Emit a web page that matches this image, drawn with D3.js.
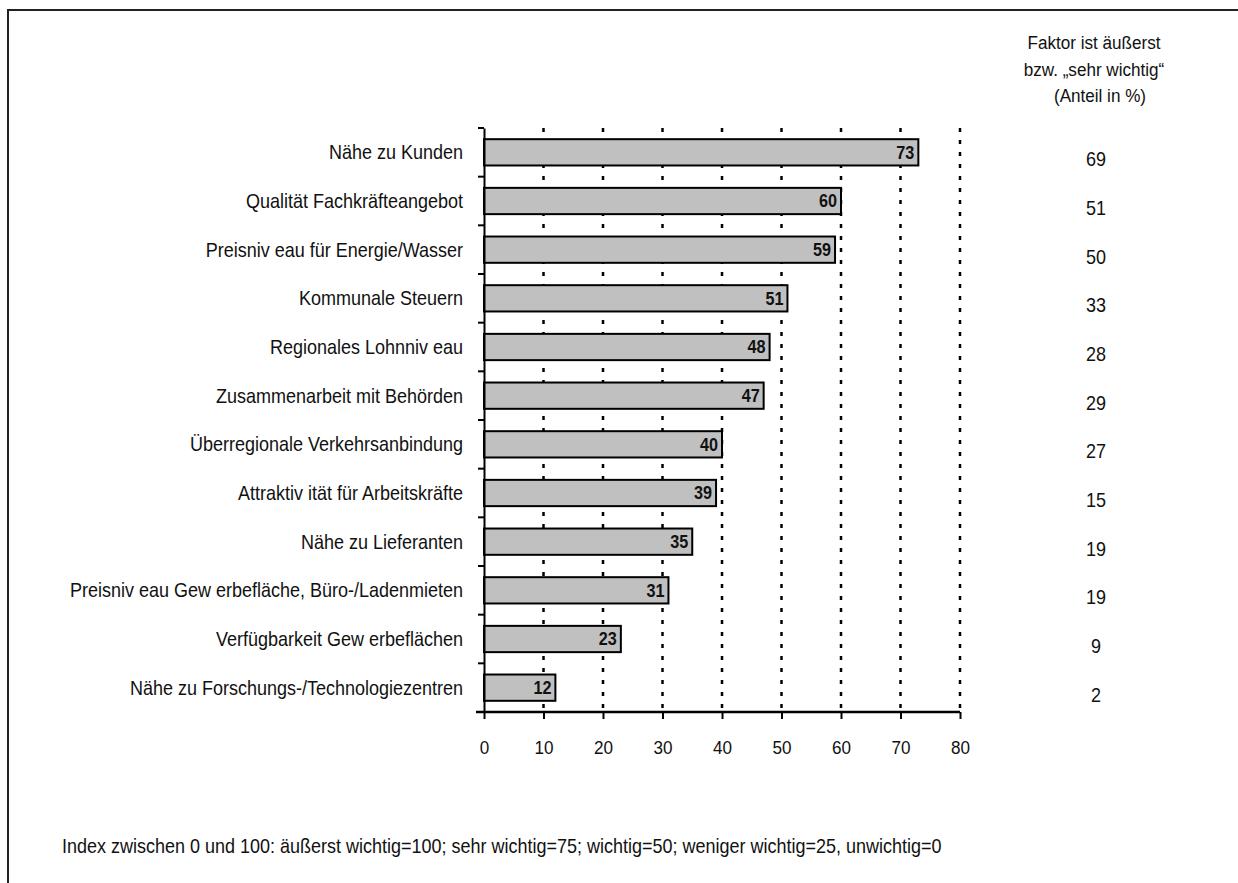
<!DOCTYPE html>
<html>
<head>
<meta charset="utf-8">
<script src="https://cdn.jsdelivr.net/npm/d3@7"></script>
<style>
    body { margin: 0; background: #fff; }
    text { font-family: "Liberation Sans", Arial, sans-serif; fill: #111; }
</style>
</head>
<body>
<svg id="chart" width="1238" height="883"></svg>
<script>
// Standortfaktoren: Index (0..100) und Anteil "äußerst/sehr wichtig"
var factors = [
    'Nähe zu Kunden',
    'Qualität Fachkräfteangebot',
    'Preisniv eau für Energie/Wasser',
    'Kommunale Steuern',
    'Regionales Lohnniv eau',
    'Zusammenarbeit mit Behörden',
    'Überregionale Verkehrsanbindung',
    'Attraktiv ität für Arbeitskräfte',
    'Nähe zu Lieferanten',
    'Preisniv eau Gew erbefläche, Büro-/Ladenmieten',
    'Verfügbarkeit Gew erbeflächen',
    'Nähe zu Forschungs-/Technologiezentren'
]
var indexValues = [73, 60, 59, 51, 48, 47, 40, 39, 35, 31, 23, 12]
var shareValues = [69, 51, 50, 33, 28, 29, 27, 15, 19, 19, 9, 2]
var xTicks = [0, 10, 20, 30, 40, 50, 60, 70, 80]
var headerLines = ['Faktor ist äußerst', 'bzw. „sehr  wichtig“', '(Anteil in %)']
var footnote = 'Index zwischen 0 und 100: äußerst wichtig=100; sehr wichtig=75; wichtig=50; weniger wichtig=25, unwichtig=0'

var NARROW = 0.9  // fake Arial Narrow by squeezing Liberation Sans

// put a squeezed text at (x,y)
function narrow(sel, x, y) {
    return sel.attr('transform', function(d, i) {
        return `translate(${x(d, i)},${y(d, i)}) scale(${NARROW},1)`
    })
}

var svg = d3.select('#chart')

// outer frame
svg.append('rect')
    .attr('x', 8).attr('y', 10)
    .attr('width', 1260).attr('height', 900)
    .attr('fill', 'none')
    .attr('stroke', '#222')
    .attr('stroke-width', 2)

var margin = { top: 128, left: 484 },
    width = 960 - 484,
    height = 712 - 128

var g = svg.append('g').attr('transform', `translate(${margin.left},${margin.top})`)

var x = d3.scaleLinear().domain([0, 80]).range([0, width])
var y = d3.scaleBand().domain(factors).range([0, height]).paddingInner(0.46).paddingOuter(0.23)
var band = d3.scaleBand().domain(factors).range([0, height])

// dotted gridlines
g.selectAll('.grid')
    .data(xTicks.filter(d => d > 0))
    .join('line')
    .attr('class', 'grid')
    .attr('x1', d => x(d)).attr('x2', d => x(d))
    .attr('y1', 0).attr('y2', height)
    .attr('stroke', '#000')
    .attr('stroke-width', 2.5)
    .attr('stroke-dasharray', '4,8')

// bars
g.selectAll('.bar')
    .data(indexValues)
    .join('rect')
    .attr('class', 'bar')
    .attr('x', 0)
    .attr('y', (d, i) => y(factors[i]))
    .attr('width', d => x(d))
    .attr('height', y.bandwidth())
    .attr('fill', '#c0c0c0')
    .attr('stroke', '#000')
    .attr('stroke-width', 2)

// value labels in bars
g.selectAll('.val')
    .data(indexValues)
    .join('text')
    .attr('class', 'val')
    .call(narrow, d => x(d) - 4, (d, i) => y(factors[i]) + y.bandwidth() / 2)
    .attr('dy', '0.35em')
    .attr('text-anchor', 'end')
    .style('font-size', '18px')
    .style('font-weight', 'bold')
    .text(d => d)

// y axis
var yAxis = g.append('g')
    .call(d3.axisLeft(band).tickValues([]).tickSizeOuter(0))
yAxis.select('.domain').attr('stroke', '#000').attr('stroke-width', 2)
g.selectAll('.ytick')
    .data(factors)
    .join('line')
    .attr('class', 'ytick')
    .attr('x1', -6).attr('x2', 0)
    .attr('y1', d => band(d)).attr('y2', d => band(d))
    .attr('stroke', '#000').attr('stroke-width', 2)

// category labels
g.selectAll('.cat')
    .data(factors)
    .join('text')
    .attr('class', 'cat')
    .call(narrow, () => -21, d => y(d) + y.bandwidth() / 2)
    .attr('dy', '0.35em')
    .attr('text-anchor', 'end')
    .style('font-size', '20px')
    .text(d => d)

// x axis
var xAxis = g.append('g')
    .attr('transform', `translate(0,${height})`)
    .call(d3.axisBottom(x).tickValues(xTicks).tickSize(7).tickSizeOuter(0))
xAxis.select('.domain').attr('stroke', '#000').attr('stroke-width', 2.5)
    .attr('d', `M-8,0H${width}`)
xAxis.selectAll('.tick line').attr('stroke', '#000').attr('stroke-width', 2)
xAxis.selectAll('.tick text').remove()
xAxis.selectAll('.tick').append('text')
    .attr('transform', `translate(0,35) scale(${NARROW},1)`)
    .attr('dy', '0.35em')
    .attr('text-anchor', 'middle')
    .style('font-size', '19px')
    .style('font-family', '"Liberation Sans", Arial, sans-serif')
    .attr('fill', '#111')
    .text(d => d)

// right column: share of "äußerst/sehr wichtig"
svg.selectAll('.hdr')
    .data(headerLines)
    .join('text')
    .attr('class', 'hdr')
    .call(narrow, (d, i) => i == 2 ? 1100 : 1094, (d, i) => 49 + i * 26.5)
    .attr('text-anchor', 'middle')
    .style('font-size', '19px')
    .text(d => d)

g.selectAll('.share')
    .data(shareValues)
    .join('text')
    .attr('class', 'share')
    .call(narrow, () => 1096 - margin.left, (d, i) => band(factors[i]) + band.bandwidth() / 2 + 7)
    .attr('dy', '0.35em')
    .attr('text-anchor', 'middle')
    .style('font-size', '20px')
    .text(d => d)

// footnote
svg.append('text')
    .call(narrow, () => 62, () => 853)
    .style('font-size', '20px')
    .text(footnote)
</script>
</body>
</html>
